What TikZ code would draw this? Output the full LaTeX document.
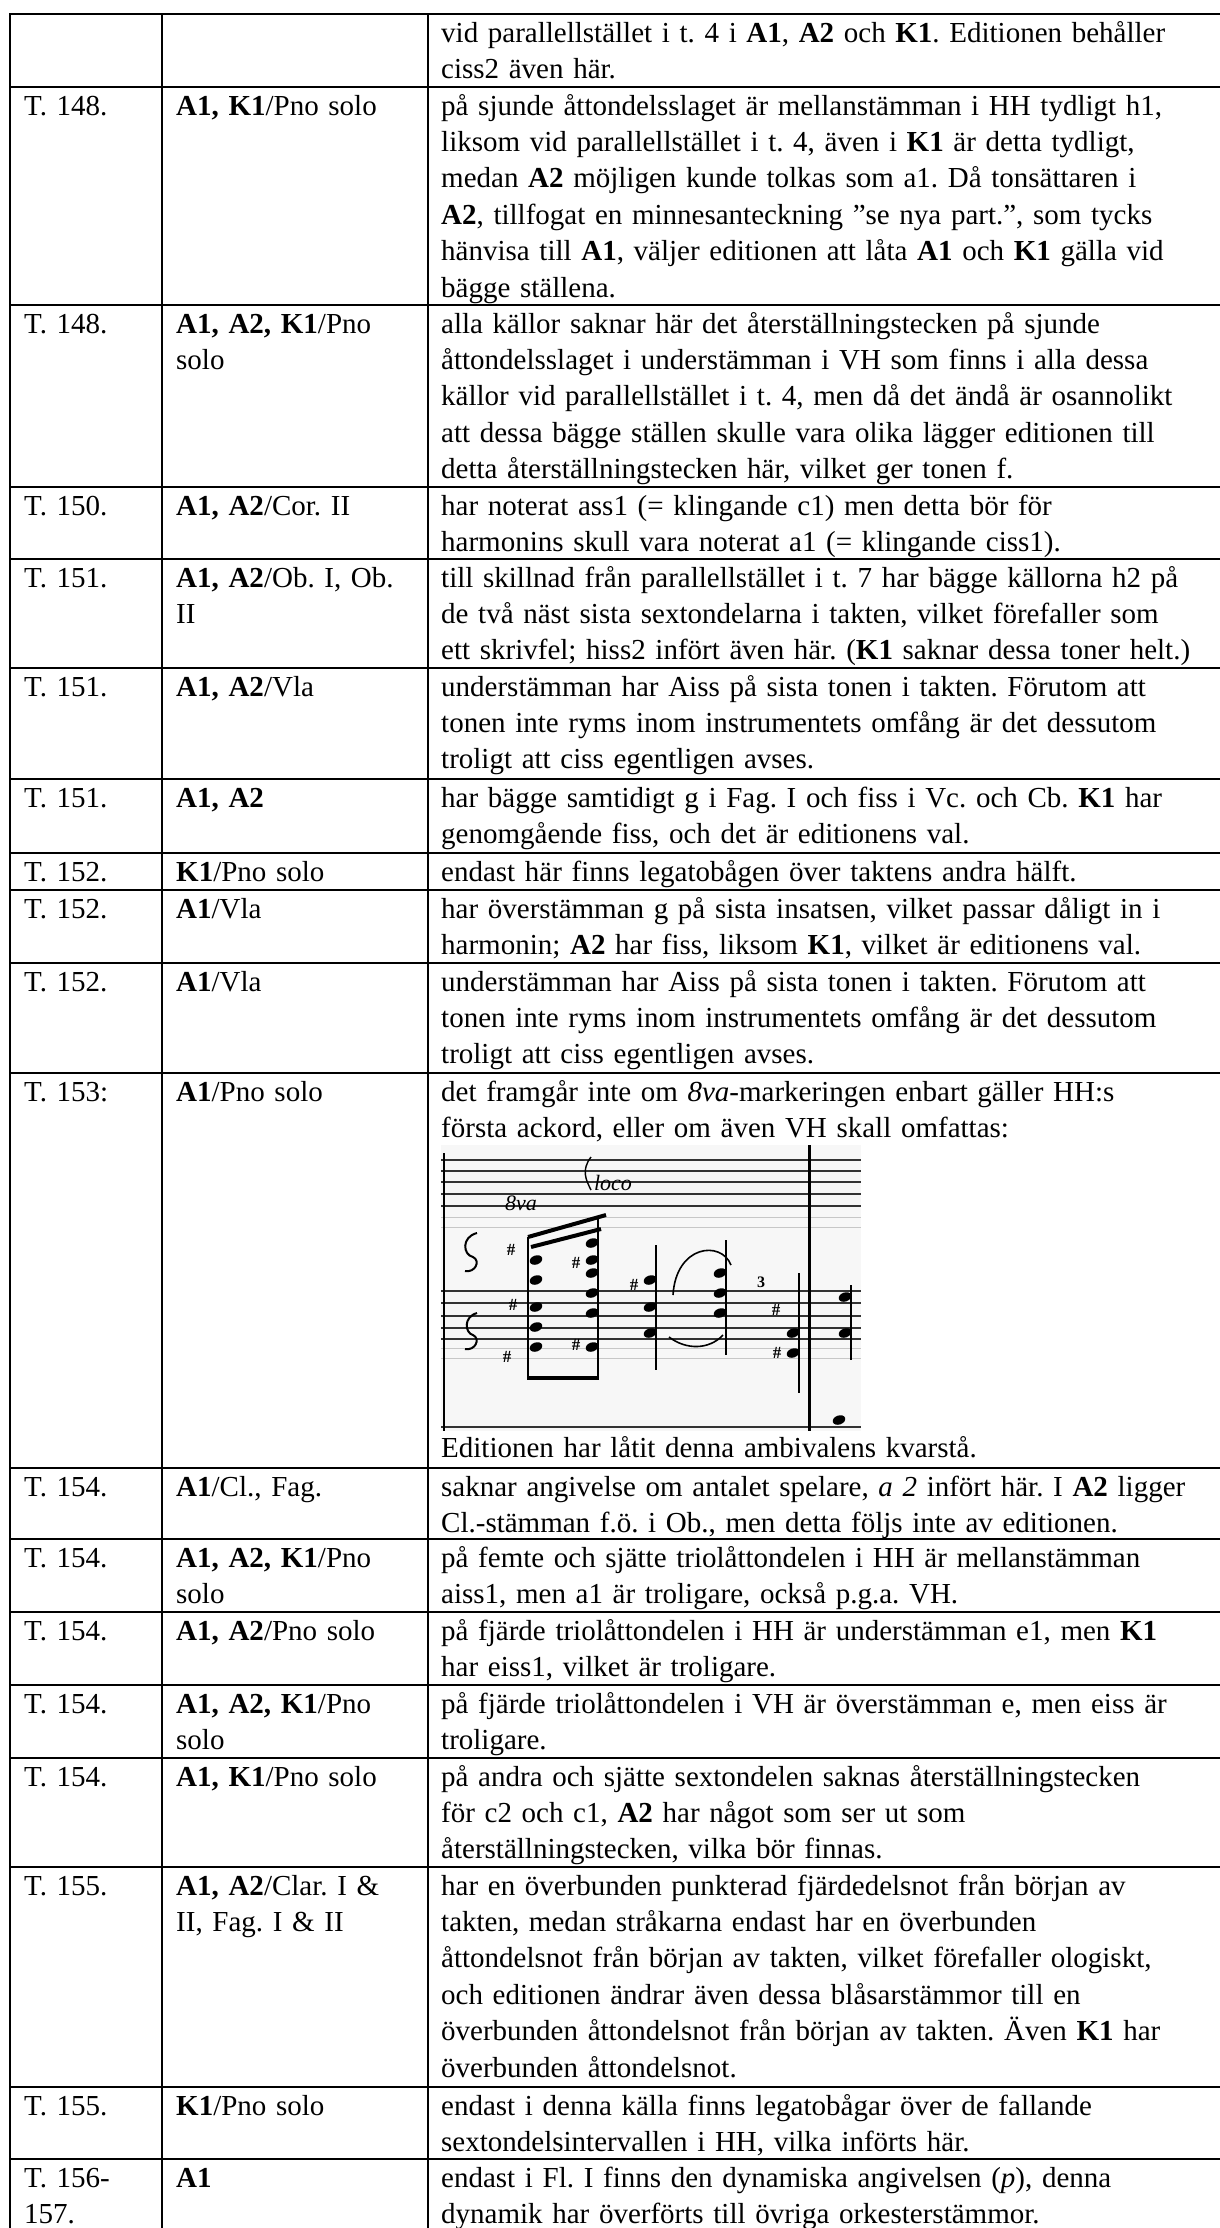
\documentclass[tikz,border=0pt]{standalone}
\usepackage{fontspec}
\setmainfont{Liberation Serif}
\frenchspacing
\newcommand\cellfont{\fontsize{29}{36.45}\selectfont\frenchspacing}
\newcommand\nh[2]{\fill[rotate around={20:(#1,#2)}] (#1,#2) ellipse (6.5 and 4.5);}
\tikzset{
  rule/.style={line width=2pt, black, line cap=rect},
  cell/.style={anchor=base west, inner sep=0pt, align=left, font=\cellfont},
  colA/.style={cell, text width=130pt},
  colB/.style={cell, text width=250pt},
  colC/.style={cell, text width=1000pt},
  staff/.style={line width=1.6pt, black!80},
  ghost/.style={line width=1pt, black!22},
  stem/.style={line width=1.8pt},
  beam/.style={line width=4pt},
  sharp/.style={font=\bfseries\fontsize{17}{17}\selectfont, inner sep=0pt},
  hand/.style={font=\itshape\fontsize{22}{22}\selectfont, inner sep=0pt}
}
\newcommand\tabrow[5]{%
  \node[colA] (#1a) at (24,{#2+28}) {#3};
  \node[colB] (#1b) at (176,{#2+28}) {#4};
  \node[colC] (#1c) at (441,{#2+28}) {#5};
}
\begin{document}
\begin{tikzpicture}[x=1pt,y=-1pt]
\useasboundingbox (0,0) rectangle (1219,2228);
\fill[white] (0,0) rectangle (1219,2228);

% horizontal rules
\foreach \yy in {14,87,305,487,559,668,779,853,890,963,1073,1468,1539,1612,1685,1758,1867,2087,2159}
  \draw[rule] (10,\yy) -- (1225,\yy);
% vertical rules
\foreach \xx in {10,162,428}
  \draw[rule] (\xx,14) -- (\xx,2240);

\tabrow{r0}{14}{}{}{vid parallellstället i t. 4 i \textbf{A1}, \textbf{A2} och \textbf{K1}. Editionen behåller\\ciss2 även här.}
\tabrow{r1}{87}{T. 148.}{\textbf{A1, K1}/Pno solo}{på sjunde åttondelsslaget är mellanstämman i HH tydligt h1,\\liksom vid parallellstället i t. 4, även i \textbf{K1} är detta tydligt,\\medan \textbf{A2} möjligen kunde tolkas som a1. Då tonsättaren i\\\textbf{A2}, tillfogat en minnesanteckning ”se nya part.”, som tycks\\hänvisa till \textbf{A1}, väljer editionen att låta \textbf{A1} och \textbf{K1} gälla vid\\bägge ställena.}
\tabrow{r2}{305}{T. 148.}{\textbf{A1, A2, K1}/Pno\\solo}{alla källor saknar här det återställningstecken på sjunde\\åttondelsslaget i understämman i VH som finns i alla dessa\\källor vid parallellstället i t. 4, men då det ändå är osannolikt\\att dessa bägge ställen skulle vara olika lägger editionen till\\detta återställningstecken här, vilket ger tonen f.}
\tabrow{r3}{487}{T. 150.}{\textbf{A1, A2}/Cor. II}{har noterat ass1 (= klingande c1) men detta bör för\\harmonins skull vara noterat a1 (= klingande ciss1).}
\tabrow{r4}{559}{T. 151.}{\textbf{A1, A2}/Ob. I, Ob.\\II}{till skillnad från parallellstället i t. 7 har bägge källorna h2 på\\de två näst sista sextondelarna i takten, vilket förefaller som\\ett skrivfel; hiss2 infört även här. (\textbf{K1} saknar dessa toner helt.)}
\tabrow{r5}{668}{T. 151.}{\textbf{A1, A2}/Vla}{understämman har Aiss på sista tonen i takten. Förutom att\\tonen inte ryms inom instrumentets omfång är det dessutom\\troligt att ciss egentligen avses.}
\tabrow{r6}{779}{T. 151.}{\textbf{A1, A2}}{har bägge samtidigt g i Fag. I och fiss i Vc. och Cb. \textbf{K1} har\\genomgående fiss, och det är editionens val.}
\tabrow{r7}{853}{T. 152.}{\textbf{K1}/Pno solo}{endast här finns legatobågen över taktens andra hälft.}
\tabrow{r8}{890}{T. 152.}{\textbf{A1}/Vla}{har överstämman g på sista insatsen, vilket passar dåligt in i\\harmonin; \textbf{A2} har fiss, liksom \textbf{K1}, vilket är editionens val.}
\tabrow{r9}{963}{T. 152.}{\textbf{A1}/Vla}{understämman har Aiss på sista tonen i takten. Förutom att\\tonen inte ryms inom instrumentets omfång är det dessutom\\troligt att ciss egentligen avses.}
\tabrow{r10}{1073}{T. 153:}{\textbf{A1}/Pno solo}{det framgår inte om \textit{8va}-markeringen enbart gäller HH:s\\första ackord, eller om även VH skall omfattas:}
\node[colC] (r10d) at (441,1457) {Editionen har låtit denna ambivalens kvarstå.};
\tabrow{r11}{1468}{T. 154.}{\textbf{A1}/Cl., Fag.}{saknar angivelse om antalet spelare, \textit{a 2} infört här. I \textbf{A2} ligger\\Cl.-stämman f.ö. i Ob., men detta följs inte av editionen.}
\tabrow{r12}{1539}{T. 154.}{\textbf{A1, A2, K1}/Pno\\solo}{på femte och sjätte triolåttondelen i HH är mellanstämman\\aiss1, men a1 är troligare, också p.g.a. VH.}
\tabrow{r13}{1612}{T. 154.}{\textbf{A1, A2}/Pno solo}{på fjärde triolåttondelen i HH är understämman e1, men \textbf{K1}\\har eiss1, vilket är troligare.}
\tabrow{r14}{1685}{T. 154.}{\textbf{A1, A2, K1}/Pno\\solo}{på fjärde triolåttondelen i VH är överstämman e, men eiss är\\troligare.}
\tabrow{r15}{1758}{T. 154.}{\textbf{A1, K1}/Pno solo}{på andra och sjätte sextondelen saknas återställningstecken\\för c2 och c1, \textbf{A2} har något som ser ut som\\återställningstecken, vilka bör finnas.}
\tabrow{r16}{1867}{T. 155.}{\textbf{A1, A2}/Clar. I \&\\II, Fag. I \& II}{har en överbunden punkterad fjärdedelsnot från början av\\takten, medan stråkarna endast har en överbunden\\åttondelsnot från början av takten, vilket förefaller ologiskt,\\och editionen ändrar även dessa blåsarstämmor till en\\överbunden åttondelsnot från början av takten. Även \textbf{K1} har\\överbunden åttondelsnot.}
\tabrow{r17}{2087}{T. 155.}{\textbf{K1}/Pno solo}{endast i denna källa finns legatobågar över de fallande\\sextondelsintervallen i HH, vilka införts här.}
\tabrow{r18}{2159}{T. 156-\\157.}{\textbf{A1}}{endast i Fl. I finns den dynamiska angivelsen (\textit{p}), denna\\dynamik har överförts till övriga orkesterstämmor.}

% music excerpt (scan sketch)
\begin{scope}[shift={(441,1145)}]
  \fill[black!3] (0,0) rectangle (420,286);
  \foreach \y in {15,26,37,49,61} \draw[staff] (0,\y) -- (420,\y);
  \foreach \y in {72,82} \draw[ghost] (0,\y) -- (420,\y);
  \foreach \y in {146,158,171,183,194} \draw[staff] (0,\y) -- (420,\y);
  \foreach \y in {203,213} \draw[ghost] (0,\y) -- (420,\y);
  \draw[staff] (0,282) -- (420,282);
  \draw[line width=2.4pt] (3,8) -- (3,286);
  \draw[line width=3pt] (368,0) -- (368,286);
  % 8va / loco
  \node[hand] (m8va) at (80,58) {8va};
  \node[hand] (mloco) at (172,38) {loco};
  \draw[line width=1.4pt] (150,12) .. controls (140,25) and (145,35) .. (150,45);
  % clef-like marks
  \draw[line width=2pt] (36,88) .. controls (20,92) and (22,110) .. (32,112) .. controls (40,116) and (34,128) .. (24,126);
  \draw[line width=2pt] (36,168) .. controls (22,172) and (24,188) .. (32,190) .. controls (40,194) and (34,206) .. (24,204);
  % beams
  \draw[beam] (87,92) -- (165,70);
  \draw[beam] (90,102) -- (160,84);
  \draw[beam] (87,233) -- (157,233);
  % stems
  \draw[stem] (87,92) -- (87,235);
  \draw[stem] (157,72) -- (157,235);
  \draw[stem] (215,100) -- (215,225);
  \draw[stem] (285,95) -- (285,210);
  \draw[stem] (358,128) -- (358,248);
  \draw[stem] (410,140) -- (410,215);
  % note heads
  \nh{95}{115}\nh{95}{135}\nh{95}{162}\nh{95}{182}\nh{95}{202}
  \nh{151}{98}\nh{151}{115}\nh{151}{128}\nh{151}{148}\nh{151}{168}\nh{151}{202}
  \nh{209}{135}\nh{209}{162}\nh{209}{188}
  \nh{279}{128}\nh{279}{148}\nh{279}{168}
  \nh{352}{188}\nh{352}{208}
  \nh{404}{152}\nh{404}{188}\nh{398}{275}
  % accidentals
  \node[sharp] (s1) at (70,105) {\#};
  \node[sharp] (s2) at (72,160) {\#};
  \node[sharp] (s3) at (66,212) {\#};
  \node[sharp] (s4) at (135,118) {\#};
  \node[sharp] (s5) at (135,200) {\#};
  \node[sharp] (s6) at (193,140) {\#};
  \node[sharp] (s7) at (335,165) {\#};
  \node[sharp] (s8) at (336,208) {\#};
  % slur and tie
  \draw[line width=1.6pt] (232,150) .. controls (235,100) and (280,95) .. (290,120);
  \draw[line width=1.6pt] (228,192) .. controls (245,205) and (268,205) .. (282,190);
  \node[font=\bfseries\fontsize{16}{16}\selectfont, inner sep=0pt] (trip) at (320,137) {3};
\end{scope}
\end{tikzpicture}
\end{document}
